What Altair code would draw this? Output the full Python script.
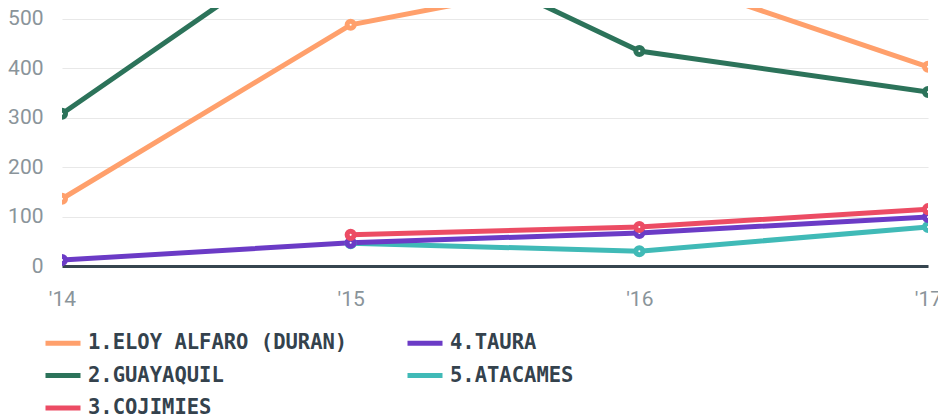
import altair as alt
import pandas as pd

years = ["'14", "'15", "'16", "'17"]
series = ["1.ELOY ALFARO (DURAN)", "2.GUAYAQUIL", "3.COJIMIES", "4.TAURA", "5.ATACAMES"]
eloy = [136, 488, 600, 403]
guayaquil = [308, 712, 435, 352]
cojimies = [None, 63, 79, 115]
taura = [12, 47, 67, 99]
atacames = [None, 46, 30, 79]
colors = ["#ffa06c", "#2c735a", "#ec4c64", "#6b3bc6", "#40bab7"]
y_ticks = [0, 100, 200, 300, 400, 500]

values = [eloy, guayaquil, cojimies, taura, atacames]
rows = []
# reverse so that lower-numbered series are drawn on top
for name, vals in reversed(list(zip(series, values))):
    for yr, v in zip(years, vals):
        if v is not None:
            rows.append({"year": yr, "value": v, "series": name})
df = pd.DataFrame(rows)

axis_font = "Roboto, sans-serif"
axis_color = "#8a949a"

color_scale = alt.Scale(domain=series, range=colors)

x_enc = alt.X(
    "year:O",
    sort=years,
    scale=alt.Scale(type="point", padding=0),
    axis=alt.Axis(
        title=None, labelAngle=0, domain=True, domainColor="#36454f", domainWidth=3,
        ticks=False, grid=False, labelPadding=22, labelFont=axis_font,
        labelFontSize=21, labelColor=axis_color,
    ),
)
y_enc = alt.Y(
    "value:Q",
    scale=alt.Scale(domain=[0, 522], nice=False, zero=True),
    axis=alt.Axis(
        title=None, values=y_ticks, domain=False, ticks=False, labelPadding=19,
        labelFont=axis_font, labelFontSize=21, labelColor=axis_color,
        gridColor="#e8e8e8", gridWidth=1.2,
    ),
)

lines = alt.Chart(df).mark_line(strokeWidth=5, clip=True).encode(
    x=x_enc,
    y=y_enc,
    color=alt.Color(
        "series:N",
        scale=color_scale,
        legend=alt.Legend(
            title=None, orient="none", legendX=-19, legendY=315, columns=2,
            columnPadding=49, rowPadding=1.5, symbolType="stroke", symbolSize=1225,
            symbolStrokeWidth=5, labelFont="DejaVu Sans Mono", labelFontWeight="bold",
            labelFontSize=20.5, labelColor="#34424d", labelOffset=5, padding=0,
            labelLimit=500,
        ),
    ),
)

points = alt.Chart(df).mark_point(filled=False, size=50, strokeWidth=5, opacity=1, clip=True).encode(
    x=x_enc,
    y=y_enc,
    stroke=alt.Stroke("series:N", scale=color_scale, legend=None),
    fill=alt.value("white"),
)

chart = alt.layer(lines, points).properties(
    width=866,
    height=258,
    autosize=alt.AutoSizeParams(type="none"),
    padding={"left": 54, "top": 0, "right": 10, "bottom": 160},
).configure_view(stroke=None)

chart.save("out.html", embed_options={"renderer": "svg", "actions": False})
